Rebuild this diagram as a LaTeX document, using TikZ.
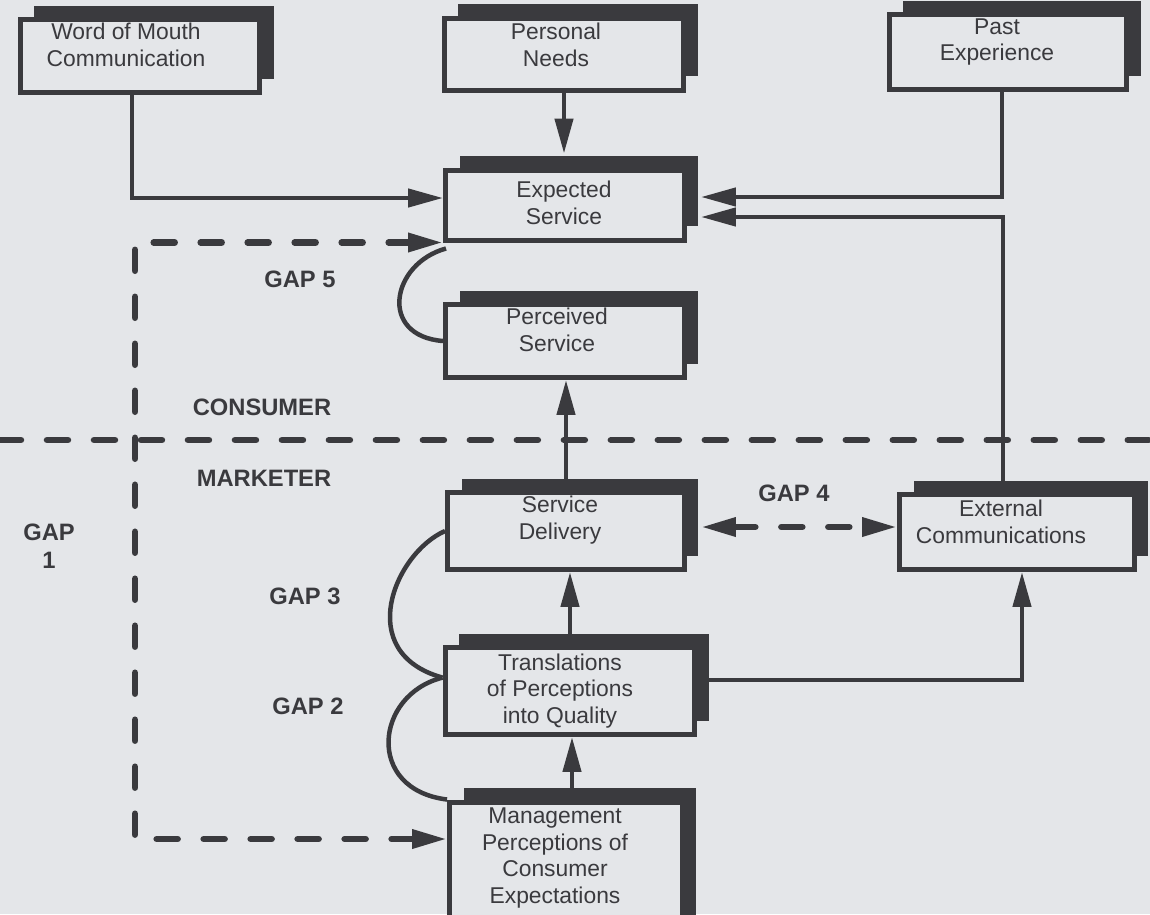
\documentclass[tikz,border=0pt]{standalone}
\usepackage{fontspec}
\setmainfont{Liberation Sans}
\usepackage{xcolor}
\usetikzlibrary{arrows.meta,shadows,calc}
\definecolor{paper}{RGB}{228,230,233}
\definecolor{ink}{RGB}{58,58,62}

\begin{document}
\begin{tikzpicture}[
    x=0.02cm, y=-0.02cm,
    >={Triangle[length=0.7cm,width=0.36cm]},
    box/.style={rectangle, draw=ink, line width=0.1cm, fill=paper, inner sep=0pt,
        drop shadow={shadow xshift=0.28cm, shadow yshift=0.28cm, fill=ink, opacity=1}},
    boxtext/.style={align=center, text=ink, inner sep=0pt, font=\fontsize{13}{15.1}\selectfont},
    gaplabel/.style={align=center, text=ink, inner sep=0pt, font=\fontsize{13.5}{16}\selectfont\bfseries},
    flow/.style={draw=ink, line width=0.09cm},
    gapline/.style={draw=ink, line width=0.13cm, line cap=round, dash pattern=on 0.42cm off 0.52cm},
    gapcurve/.style={draw=ink, line width=0.09cm}
]
    \fill[paper] (0,0) rectangle (1150,914);
    \useasboundingbox (0,0) rectangle (1150,914);

    % consumer side
    \node[box, minimum width=4.8cm, minimum height=1.46cm] (wom) at (140,56) {};
    \node[boxtext] (womtxt) at (126,45) {Word of Mouth\\Communication};
    \node[box, minimum width=4.8cm, minimum height=1.44cm] (needs) at (564,54) {};
    \node[boxtext] (needstxt) at (556,45) {Personal\\Needs};
    \node[box, minimum width=4.76cm, minimum height=1.5cm] (past) at (1008,52) {};
    \node[boxtext] (pasttxt) at (997,42) {Past\\Experience};
    \node[box, minimum width=4.78cm, minimum height=1.4cm] (expected) at (565,205) {};
    \node[boxtext] (expectedtxt) at (564,203) {Expected\\Service};
    \node[box, minimum width=4.78cm, minimum height=1.46cm] (perceived) at (565,341) {};
    \node[boxtext] (perceivedtxt) at (557,330) {Perceived\\Service};

    % marketer side
    \node[box, minimum width=4.74cm, minimum height=1.54cm] (delivery) at (566,531) {};
    \node[boxtext] (deliverytxt) at (560,520) {Service\\Delivery};
    \node[box, minimum width=5cm, minimum height=1.74cm] (transl) at (570,691) {};
    \node[boxtext] (transltxt) at (560,691) {Translations\\of Perceptions\\into Quality};
    \node[box, minimum width=4.66cm, minimum height=2.6cm] (mgmt) at (566,867) {};
    \node[boxtext] (mgmttxt) at (555,858) {Management\\Perceptions of\\Consumer\\Expectations};
    \node[box, minimum width=4.7cm, minimum height=1.5cm] (extcom) at (1017,532) {};
    \node[boxtext] (extcomtxt) at (1001,522) {External\\Communications};

    % labels
    \node[gaplabel] (consumer) at (262,407) {CONSUMER};
    \node[gaplabel] (marketer) at (264,478) {MARKETER};
    \node[gaplabel] (gap1) at (49,546) {GAP\\1};
    \node[gaplabel] (gap2) at (308,706) {GAP 2};
    \node[gaplabel] (gap3) at (305,596) {GAP 3};
    \node[gaplabel] (gap4) at (794,493) {GAP 4};
    \node[gaplabel] (gap5) at (300,279) {GAP 5};

    % consumer / marketer border
    \draw[gapline] (0,440) -- (1150,440);

    % flows
    \draw[flow,->] ($(wom.south)+(-8,0)$) |- ($(expected.west)+(0,-7)$);
    \draw[flow,->] (needs.south) -- ($(needs.south |- expected.north)+(0,-14)$);
    \draw[flow,->] ($(past.south)+(-6,0)$) |- ($(expected.east)+(14,-8)$);
    \draw[flow,->] ($(extcom.north)+(-14,0)$) |- ($(expected.east)+(14,12)$);
    \draw[flow,->] (delivery.north) -- (delivery.north |- perceived.south);
    \draw[flow,->] (transl.north) -- (transl.north |- delivery.south);
    \draw[flow,->] ($(mgmt.north)+(6,0)$) -- ($(mgmt.north |- transl.south)+(6,0)$);
    \draw[flow,->] ($(transl.east)+(0,-11)$) -| ($(extcom.south)+(5,0)$);

    % gaps
    \coordinate (gap1corner) at (135,839);
    \draw[gapline,<->] (expected.south west) -| (gap1corner) -- ($(mgmt.west)+(0,-28)$);
    \draw[gapline,<->] ($(delivery.east)+(14,-4)$) -- ($(extcom.west)+(0,-5)$);
    \draw[gapcurve] ($(expected.south west)+(3,6)$) .. controls +(-55,15) and +(-65,-5) .. (perceived.west);
    \draw[gapcurve] (delivery.west) .. controls +(-50,22) and +(-90,-25) .. (transl.174);
    \draw[gapcurve] (transl.174) .. controls +(-68,17) and +(-82,-10) .. (mgmt.north west);
\end{tikzpicture}
\end{document}
